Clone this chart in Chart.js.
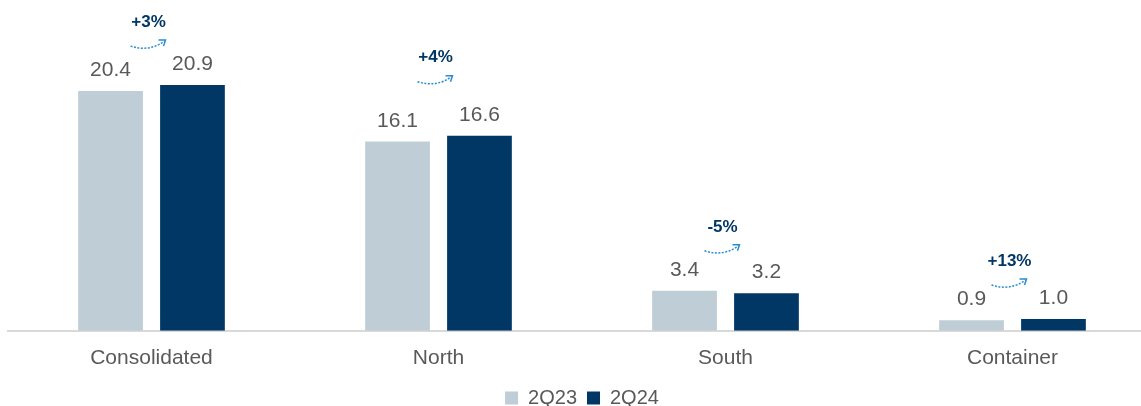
<!DOCTYPE html>
<html>
<head>
<meta charset="utf-8">
<script src="https://cdn.jsdelivr.net/npm/chart.js@4/dist/chart.umd.min.js"></script>
<style>
  html, body { margin: 0; padding: 0; background: #fff; overflow: hidden; }
  #wrap { width: 1141px; height: 406px; overflow: hidden; }
</style>
</head>
<body>
<div id="wrap"><canvas id="myChart" width="1156" height="406"></canvas></div>
<script>
const categories = ['Consolidated', 'North', 'South', 'Container'];
const q23 = [20.4, 16.1, 3.4, 0.9];
const q24 = [20.9, 16.6, 3.2, 1.0];
const changes = ['+3%', '+4%', '-5%', '+13%'];

// how far above the taller bar each change note sits (px)
const noteLift = [63, 78, 64, 58];

const light = '#bfcdd7';
const dark = '#003764';
const fontFamily = '"Liberation Sans", Arial, sans-serif';

const changeNotes = {
  id: 'changeNotes',
  afterDatasetsDraw(chart) {
    const ctx = chart.ctx;
    const m0 = chart.getDatasetMeta(0);
    const m1 = chart.getDatasetMeta(1);
    ctx.save();
    // value labels
    ctx.font = '21px ' + fontFamily;
    ctx.fillStyle = '#595959';
    ctx.textAlign = 'center';
    ctx.textBaseline = 'alphabetic';
    [m0, m1].forEach((m, d) => {
      const vals = d === 0 ? q23 : q24;
      m.data.forEach((bar, i) => {
        ctx.fillText(vals[i].toFixed(1), bar.x, bar.y - 15);
      });
    });
    // change notes with curved arrows
    categories.forEach((c, i) => {
      const cx = (m0.data[i].x + m1.data[i].x) / 2;
      const top = Math.min(m0.data[i].y, m1.data[i].y);
      const ty = top - noteLift[i];
      ctx.font = 'bold 17px ' + fontFamily;
      ctx.fillStyle = dark;
      ctx.textBaseline = 'middle';
      ctx.fillText(changes[i], cx - 3, ty);
      const ay = ty + 24;
      ctx.strokeStyle = '#2a8dd0';
      ctx.lineWidth = 1.5;
      ctx.setLineDash([2, 1.5]);
      ctx.beginPath();
      ctx.moveTo(cx - 21, ay);
      ctx.quadraticCurveTo(cx - 2, ay + 6, cx + 13, ay - 5);
      ctx.stroke();
      ctx.setLineDash([]);
      ctx.beginPath();
      ctx.moveTo(cx + 7, ay - 6);
      ctx.lineTo(cx + 14, ay - 6);
      ctx.lineTo(cx + 12, ay);
      ctx.stroke();
    });
    ctx.restore();
  }
};

const ctx = document.getElementById('myChart').getContext('2d');
const myChart = new Chart(ctx, {
  type: 'bar',
  data: {
    labels: categories,
    datasets: [
      {
        label: '2Q23',
        data: q23,
        backgroundColor: light,
        categoryPercentage: 0.571,
        barPercentage: 0.79,
      },
      {
        label: '2Q24',
        data: q24,
        backgroundColor: dark,
        categoryPercentage: 0.571,
        barPercentage: 0.79,
      },
    ],
  },
  options: {
    responsive: false,
    animation: false,
    devicePixelRatio: 1,
    layout: { padding: { left: 8, right: 0, top: 4, bottom: -12 } },
    plugins: {
      tooltip: { enabled: false },
      legend: {
        position: 'bottom',
        labels: {
          boxWidth: 13,
          boxHeight: 13,
          padding: 10,
          color: '#595959',
          font: { size: 20, family: fontFamily },
        },
      },
    },
    scales: {
      x: {
        grid: { display: false },
        border: { color: '#d9d9d9', width: 2 },
        ticks: {
          color: '#595959',
          padding: 7,
          font: { size: 21, family: fontFamily },
        },
      },
      y: {
        display: false,
        min: 0,
        max: 27.8,
      },
    },
  },
  plugins: [changeNotes],
});
</script>
</body>
</html>
